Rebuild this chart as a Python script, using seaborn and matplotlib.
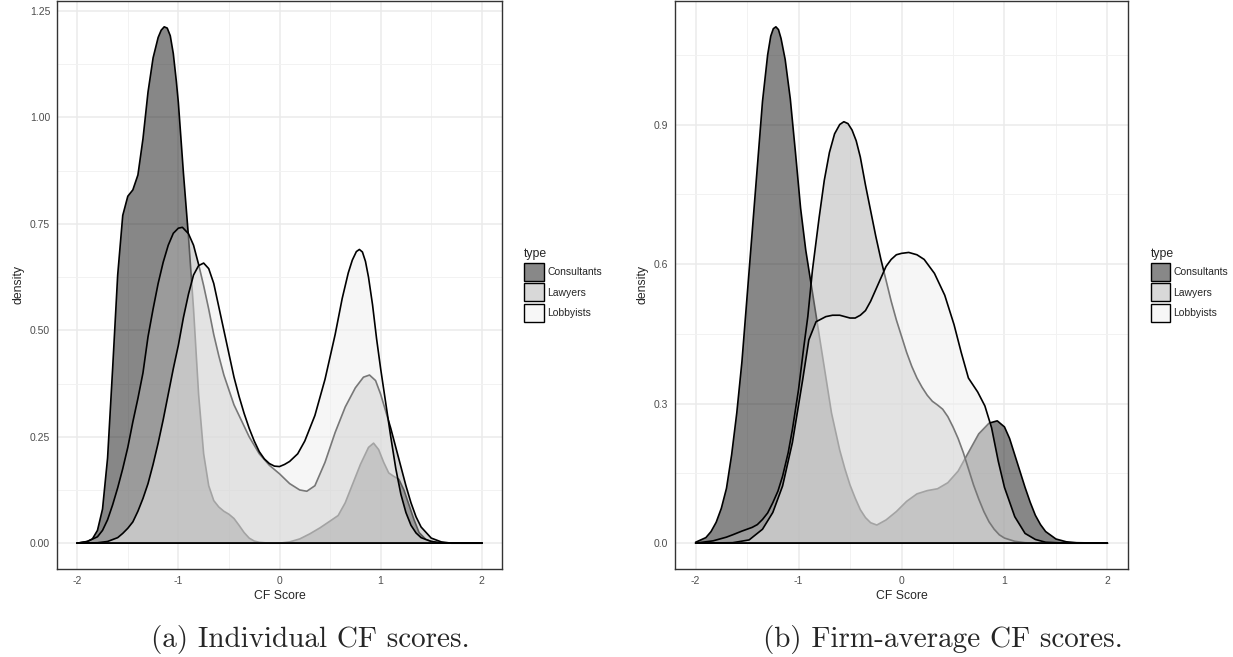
import numpy as np
import pandas as pd
import matplotlib
matplotlib.use("Agg")
import matplotlib.pyplot as plt
from matplotlib.patches import Patch
from matplotlib.ticker import MultipleLocator, FixedLocator
from matplotlib.colors import to_rgba
import seaborn as sns

# group names and fills (ggplot-like grey scale, alpha 0.5)
types = ["Consultants", "Lawyers", "Lobbyists"]
fills = ["#111111", "#b0b0b0", "#efefef"]
ALPHA = 0.5

# ---- panel (a): individual CF scores, density curves ----
a_cons_x = [-2.0, -1.9, -1.85, -1.8, -1.75, -1.7, -1.65, -1.6, -1.55, -1.5, -1.45, -1.4, -1.35, -1.3,
            -1.25, -1.2, -1.17, -1.14, -1.11, -1.08, -1.05, -1.02, -1.0, -0.95, -0.9, -0.85, -0.8, -0.75, -0.7,
            -0.65, -0.6, -0.55, -0.5, -0.45, -0.4, -0.35, -0.3, -0.25, -0.2, -0.1, 0.0, 0.1, 0.2,
            0.3, 0.4, 0.5, 0.58, 0.65, 0.7, 0.8, 0.88, 0.93, 0.98, 1.03, 1.08, 1.13, 1.18, 1.23,
            1.28, 1.33, 1.38, 1.45, 1.55, 1.7, 2.0]
a_cons_y = [0.0, 0.004, 0.01, 0.03, 0.08, 0.2, 0.41, 0.63, 0.77, 0.815, 0.83, 0.865, 0.95, 1.06,
            1.14, 1.188, 1.205, 1.213, 1.21, 1.192, 1.15, 1.085, 1.035, 0.87, 0.72, 0.55, 0.35, 0.21, 0.135,
            0.1, 0.085, 0.075, 0.068, 0.058, 0.042, 0.025, 0.012, 0.005, 0.002, 0.0, 0.0, 0.003, 0.01,
            0.022, 0.036, 0.052, 0.065, 0.095, 0.125, 0.185, 0.225, 0.235, 0.22, 0.19, 0.165, 0.157, 0.15, 0.125,
            0.09, 0.055, 0.025, 0.008, 0.001, 0.0, 0.0]

a_law_x = [-2.0, -1.9, -1.8, -1.75, -1.7, -1.65, -1.6, -1.55, -1.5, -1.45, -1.4, -1.35, -1.3, -1.25,
           -1.2, -1.15, -1.1, -1.05, -1.0, -0.96, -0.9, -0.85, -0.8, -0.75, -0.7, -0.65, -0.6, -0.55,
           -0.5, -0.45, -0.4, -0.35, -0.3, -0.2, -0.1, 0.0, 0.1, 0.2, 0.27, 0.35, 0.45, 0.55, 0.65,
           0.75, 0.83, 0.89, 0.95, 1.0, 1.05, 1.1, 1.15, 1.2, 1.25, 1.3, 1.35, 1.4, 1.5, 1.6, 1.7, 2.0]
a_law_y = [0.0, 0.004, 0.015, 0.03, 0.055, 0.09, 0.13, 0.175, 0.225, 0.285, 0.34, 0.4, 0.485, 0.55,
           0.61, 0.66, 0.7, 0.728, 0.74, 0.742, 0.727, 0.7, 0.655, 0.605, 0.55, 0.49, 0.44, 0.395,
           0.36, 0.325, 0.3, 0.275, 0.25, 0.21, 0.183, 0.163, 0.14, 0.125, 0.122, 0.135, 0.19, 0.26, 0.32,
           0.365, 0.39, 0.395, 0.382, 0.35, 0.31, 0.27, 0.225, 0.18, 0.135, 0.095, 0.062, 0.038, 0.012, 0.003, 0.0, 0.0]

a_lob_x = [-2.0, -1.8, -1.7, -1.6, -1.55, -1.5, -1.45, -1.4, -1.35, -1.3, -1.25, -1.2, -1.15, -1.1,
           -1.05, -1.0, -0.95, -0.9, -0.85, -0.8, -0.75, -0.7, -0.65, -0.6, -0.55, -0.5, -0.45, -0.4,
           -0.35, -0.3, -0.25, -0.2, -0.15, -0.1, -0.05, 0.0, 0.05, 0.1, 0.18, 0.25, 0.35, 0.45, 0.55,
           0.62, 0.68, 0.72, 0.76, 0.79, 0.82, 0.85, 0.88, 0.92, 0.96, 1.0, 1.05, 1.1, 1.15, 1.2, 1.25, 1.3, 1.35,
           1.4, 1.5, 1.6, 1.8, 2.0]
a_lob_y = [0.0, 0.001, 0.004, 0.013, 0.023, 0.035, 0.05, 0.075, 0.105, 0.14, 0.185, 0.235, 0.29, 0.35,
           0.41, 0.465, 0.53, 0.585, 0.63, 0.652, 0.658, 0.645, 0.61, 0.555, 0.5, 0.445, 0.39, 0.345,
           0.305, 0.27, 0.24, 0.215, 0.198, 0.187, 0.181, 0.18, 0.185, 0.192, 0.21, 0.24, 0.3, 0.385, 0.49,
           0.575, 0.635, 0.665, 0.685, 0.69, 0.684, 0.662, 0.625, 0.56, 0.48, 0.41, 0.33, 0.25, 0.175, 0.115, 0.072, 0.042, 0.024,
           0.013, 0.004, 0.001, 0.0, 0.0]

# ---- panel (b): firm-average CF scores ----
b_cons_x = [-2.0, -1.9, -1.85, -1.8, -1.75, -1.7, -1.65, -1.6, -1.55, -1.5, -1.45, -1.4, -1.35, -1.3,
            -1.27, -1.245, -1.22, -1.195, -1.17, -1.13, -1.08, -1.03, -0.98, -0.93, -0.88, -0.83, -0.78, -0.73, -0.68,
            -0.6, -0.55, -0.5, -0.45, -0.4, -0.35, -0.3, -0.24, -0.15, -0.05, 0.05, 0.15, 0.25, 0.35,
            0.45, 0.55, 0.65, 0.75, 0.85, 0.93, 1.0, 1.05, 1.1, 1.15, 1.2, 1.25, 1.3, 1.35, 1.4, 1.5,
            1.6, 1.7, 2.0]
b_cons_y = [0.002, 0.012, 0.025, 0.045, 0.075, 0.118, 0.19, 0.28, 0.39, 0.53, 0.67, 0.81, 0.95, 1.05,
            1.09, 1.106, 1.11, 1.104, 1.085, 1.04, 0.955, 0.84, 0.72, 0.63, 0.56, 0.49, 0.42, 0.35, 0.28,
            0.2, 0.16, 0.125, 0.097, 0.072, 0.055, 0.044, 0.039, 0.05, 0.068, 0.09, 0.106, 0.113, 0.117,
            0.13, 0.155, 0.195, 0.235, 0.258, 0.263, 0.25, 0.225, 0.19, 0.155, 0.12, 0.088, 0.06, 0.04, 0.025, 0.009,
            0.003, 0.001, 0.0]

b_law_x = [-2.0, -1.9, -1.83, -1.7, -1.64, -1.55, -1.45, -1.4, -1.35, -1.3, -1.25, -1.2, -1.155, -1.1,
           -1.06, -1.0, -0.95, -0.91, -0.865, -0.8, -0.75, -0.7, -0.65, -0.6, -0.56, -0.52, -0.48, -0.44, -0.4,
           -0.35, -0.3, -0.25, -0.2, -0.15, -0.1, -0.05, 0.0, 0.05, 0.1, 0.15, 0.2, 0.25, 0.3, 0.35,
           0.4, 0.45, 0.5, 0.55, 0.6, 0.65, 0.7, 0.75, 0.8, 0.85, 0.9, 0.95, 1.0, 1.1, 1.2, 1.3, 2.0]
b_law_y = [0.0, 0.003, 0.005, 0.013, 0.018, 0.026, 0.034, 0.04, 0.051, 0.065, 0.087, 0.112, 0.144, 0.195,
           0.244, 0.33, 0.42, 0.487, 0.587, 0.7, 0.78, 0.84, 0.88, 0.9, 0.906, 0.902, 0.888, 0.865, 0.83,
           0.77, 0.715, 0.66, 0.61, 0.565, 0.52, 0.48, 0.445, 0.41, 0.38, 0.355, 0.335, 0.318, 0.305, 0.297,
           0.288, 0.272, 0.25, 0.225, 0.195, 0.16, 0.125, 0.095, 0.068, 0.046, 0.03, 0.018, 0.011, 0.004, 0.001, 0.0, 0.0]

b_lob_x = [-2.0, -1.64, -1.48, -1.35, -1.25, -1.155, -1.06, -0.96, -0.9, -0.83, -0.735, -0.67, -0.6,
           -0.55, -0.5, -0.45, -0.4, -0.35, -0.3, -0.25, -0.2, -0.15, -0.1, -0.05, 0.0, 0.07, 0.15,
           0.22, 0.32, 0.42, 0.51, 0.58, 0.65, 0.74, 0.81, 0.875, 0.94, 1.0, 1.1, 1.2, 1.3, 1.4, 1.6, 2.0]
b_lob_y = [0.0, 0.001, 0.007, 0.03, 0.066, 0.123, 0.216, 0.351, 0.437, 0.476, 0.487, 0.49, 0.49,
           0.487, 0.484, 0.484, 0.49, 0.5, 0.52, 0.545, 0.57, 0.595, 0.61, 0.62, 0.623, 0.625, 0.62,
           0.61, 0.58, 0.533, 0.47, 0.41, 0.355, 0.325, 0.295, 0.248, 0.176, 0.12, 0.057, 0.021, 0.008, 0.002, 0.0, 0.0]

x_ticks = [-2, -1, 0, 1, 2]
a_yticks = [0.0, 0.25, 0.5, 0.75, 1.0, 1.25]
a_ylabels = ["0.00", "0.25", "0.50", "0.75", "1.00", "1.25"]
b_yticks = [0.0, 0.3, 0.6, 0.9]
b_ylabels = ["0.0", "0.3", "0.6", "0.9"]
captions = ["(a) Individual CF scores.", "(b) Firm-average CF scores."]


def build_df(pairs):
    rows = []
    for t, (xs, ys) in zip(types, pairs):
        rows.append(pd.DataFrame({"CF Score": xs, "density": ys, "type": t}))
    return pd.concat(rows, ignore_index=True)


def solid(c):
    # colour of the alpha fill seen over white, for the legend keys
    r, g, b, _ = to_rgba(c)
    return (1 - ALPHA + ALPHA * r, 1 - ALPHA + ALPHA * g, 1 - ALPHA + ALPHA * b)


def draw_panel(ax, df, yticks, ylabels, yminor):
    for i, t in enumerate(types):
        d = df[df["type"] == t]
        ax.fill_between(d["CF Score"], d["density"], 0, facecolor=to_rgba(fills[i], ALPHA),
                        edgecolor="none", zorder=2 + 2 * i)
        sns.lineplot(data=d, x="CF Score", y="density", color="black", lw=1.2,
                     estimator=None, sort=False, ax=ax, zorder=3 + 2 * i)
        base = d.assign(density=0.0)
        sns.lineplot(data=base, x="CF Score", y="density", color="black", lw=1.2,
                     estimator=None, sort=False, ax=ax, zorder=3 + 2 * i)
    ymax = df["density"].max()
    pad = 0.05 * ymax
    ax.set_xlim(-2.2, 2.2)
    ax.set_ylim(-pad, ymax + pad)
    ax.xaxis.set_major_locator(FixedLocator(x_ticks))
    ax.set_xticklabels([str(v) for v in x_ticks])
    ax.xaxis.set_minor_locator(MultipleLocator(0.5))
    ax.set_yticks(yticks)
    ax.set_yticklabels(ylabels)
    ax.yaxis.set_minor_locator(MultipleLocator(yminor))
    ax.grid(which="major", color="#ebebeb", lw=1.1, zorder=0)
    ax.grid(which="minor", color="#f2f2f2", lw=0.7, zorder=0)
    ax.set_axisbelow(True)
    ax.tick_params(which="major", length=2.75, width=0.8, color="#333333", pad=2.2,
                   labelsize=7.5, labelcolor="#4d4d4d")
    ax.tick_params(which="minor", length=0)
    for s in ax.spines.values():
        s.set_color("#333333")
        s.set_linewidth(1.0)
        s.set_visible(True)
    ax.set_xlabel("CF Score", fontsize=8.8, labelpad=3)
    ax.set_ylabel("density", fontsize=8.8, labelpad=4)
    handles = [Patch(facecolor=solid(fills[i]), edgecolor="black", linewidth=1.0, label=t)
               for i, t in enumerate(types)]
    leg = ax.legend(handles=handles, title="type", loc="center left", bbox_to_anchor=(1.05, 0.5),
                    frameon=False, fontsize=7.5, title_fontsize=8.8, handlelength=1.85,
                    handleheight=2.3, labelspacing=0.25, handletextpad=0.35,
                    borderpad=0, borderaxespad=0)
    leg._legend_box.align = "left"


sns.set_theme(style="white")
plt.rcParams["font.family"] = ["Liberation Sans", "DejaVu Sans"]
plt.rcParams["axes.unicode_minus"] = False

fig = plt.figure(figsize=(12.33, 6.57), dpi=100)
ax_a = fig.add_axes([57 / 1233, 88 / 657, 445 / 1233, 568 / 657])
ax_b = fig.add_axes([675 / 1233, 88 / 657, 453 / 1233, 568 / 657])

df_a = build_df([(a_cons_x, a_cons_y), (a_law_x, a_law_y), (a_lob_x, a_lob_y)])
df_b = build_df([(b_cons_x, b_cons_y), (b_law_x, b_law_y), (b_lob_x, b_lob_y)])

draw_panel(ax_a, df_a, a_yticks, a_ylabels, 0.125)
draw_panel(ax_b, df_b, b_yticks, b_ylabels, 0.15)

fig.text(0.252, 0.026, captions[0], fontfamily="cmr10", fontsize=21, ha="center", va="center")
fig.text(0.765, 0.026, captions[1], fontfamily="cmr10", fontsize=21, ha="center", va="center")

fig.savefig("out.png", dpi=100)
